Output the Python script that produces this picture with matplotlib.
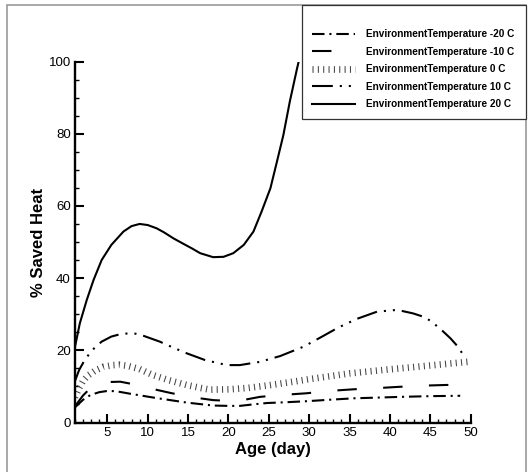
import numpy as np
import matplotlib
matplotlib.use('Agg')
import matplotlib.pyplot as plt
from matplotlib.patches import Rectangle
from matplotlib.ticker import MultipleLocator

plt.rcParams['font.family'] = ['Liberation Sans', 'DejaVu Sans']
plt.rcParams['lines.scale_dashes'] = False

# values (age in days, % saved heat)
x_m20 = [1, 2, 2.9, 4, 4.9, 6, 7, 8, 9.9, 11, 12.8, 14.9, 16.5, 18.1, 20, 21.4, 23, 24.8, 27, 29.7,
         32.5, 35.5, 38.5, 41.3, 45, 48.7]
y_m20 = [4.2, 6.3, 7.6, 8.4, 8.7, 8.7, 8.3, 7.9, 7.2, 6.8, 6.2, 5.5, 5.1, 4.7, 4.6, 4.6, 5.0, 5.4, 5.6, 5.9,
         6.3, 6.7, 6.9, 7.1, 7.3, 7.4]

x_m10 = [1, 2, 3.3, 4, 5, 6.6, 8, 9.3, 11, 12.8, 15.2, 16.5, 18.1, 20, 22, 23.9, 26.4, 29.7, 32.2,
         35.5, 38.2, 41.3, 44, 47, 49]
y_m10 = [4.5, 7.5, 10.4, 10.9, 11.2, 11.3, 10.7, 9.9, 9.1, 8.2, 7.1, 6.7, 6.2, 6.0, 6.3, 7.1, 7.6, 8.1, 8.7,
         9.2, 9.5, 9.9, 10.2, 10.4, 10.4]

x_0 = [1, 1.5, 2, 2.6, 3.5, 4.5, 5.7, 6.5, 7.5, 9, 10.7, 12.5, 14.8, 16.5, 17.7, 20.2, 22.5, 25, 28,
       30, 35, 39.4, 45, 49.6]
y_0 = [7, 9.5, 11.5, 13, 14.4, 15.4, 15.9, 16.0, 15.7, 14.8, 13.1, 11.8, 10.4, 9.6, 9.1, 9.2, 9.6, 10.3,
       11.3, 12.0, 13.6, 14.6, 15.8, 16.8]

x_10 = [1, 1.5, 2.2, 3.1, 4.3, 5.5, 6.5, 7.6, 8.5, 9.5, 11.5, 13, 14.8, 17.1, 19.8, 21.4, 23.9, 26.4,
        29.3, 31.6, 33.6, 35.9, 38.4, 40.9, 42.9, 44.4, 45.4, 46.5, 47.5, 48.3, 49.1]
y_10 = [11.5, 14.5, 17.3, 20, 22.4, 23.8, 24.4, 24.7, 24.6, 24.0, 22.4, 20.9, 19.2, 17.3, 15.9, 15.9,
        16.8, 18.4, 21, 23.8, 26.3, 28.7, 30.7, 31.2, 30.2, 29.1, 27.5, 25.4, 23.3, 21.3, 18.7]

x_20 = [1, 1.6, 2.45, 3.3, 4.3, 5.5, 7, 8, 9, 10, 11.1, 12, 13.2, 14.5, 15.5, 16.5, 18.1, 19.4, 20.6,
        21.9, 23.1, 24.1, 25.2, 26, 26.8, 27.6, 28.5, 28.7]
y_20 = [21, 27.5, 33.9, 39.5, 45, 49.2, 52.9, 54.4, 55, 54.7, 53.8, 52.7, 51, 49.4, 48.2, 46.9, 45.8, 45.9,
        46.9, 49.2, 52.9, 58.4, 64.9, 72.2, 79.6, 88.9, 98.1, 100]

labels = ['EnvironmentTemperature -20 C', 'EnvironmentTemperature -10 C',
          'EnvironmentTemperature 0 C', 'EnvironmentTemperature 10 C',
          'EnvironmentTemperature 20 C']

fig = plt.figure(figsize=(5.3, 4.72), dpi=100)
ax = fig.add_axes([75/530, 1-422.5/472, 395.7/530, 361/472])

ax.plot(x_m20, y_m20, color='black', lw=1.5, dashes=(9, 3.5, 1.5, 3.5), label=labels[0])
ax.plot(x_m10, y_m10, color='black', lw=1.5, dashes=(14, 19), label=labels[1])
ax.plot(x_0, y_0, color='#444444', lw=4.8, dashes=(0.75, 3.1), dash_capstyle='butt',
        label=labels[2])
ax.plot(x_10, y_10, color='black', lw=1.5, dashes=(15, 5, 1.5, 5, 1.5, 5), label=labels[3])
ax.plot(x_20, y_20, color='black', lw=1.5, label=labels[4])

ax.set_xlim(1, 50)
ax.set_ylim(0, 100)
ax.spines['top'].set_visible(False)
ax.spines['right'].set_visible(False)
ax.spines['left'].set_linewidth(1.7)
ax.spines['bottom'].set_linewidth(1.7)
ax.set_xticks([5, 10, 15, 20, 25, 30, 35, 40, 45, 50])
ax.set_yticks([0, 20, 40, 60, 80, 100])
ax.xaxis.set_minor_locator(MultipleLocator(1))
ax.yaxis.set_minor_locator(MultipleLocator(5))
ax.tick_params(which='major', direction='in', length=6.5, width=1.5, labelsize=9.5, pad=3)
ax.tick_params(which='minor', direction='in', length=3, width=1.0)

ax.set_xlabel('Age (day)', fontsize=12, fontweight='bold')
ax.set_ylabel('% Saved Heat', fontsize=12, fontweight='bold')
ax.xaxis.set_label_coords(0.5, -0.053)
ax.yaxis.set_label_coords(-0.073, 0.5)

leg_h = 113/472
leg = fig.legend(loc='upper left', bbox_to_anchor=(302/530, 1-5/472-leg_h, 224/530, leg_h),
                 mode='expand', borderaxespad=0,
                 prop={'weight': 'bold', 'size': 7.2}, title=' ', title_fontsize=5.5,
                 handlelength=4.3, handletextpad=1.15, labelspacing=0.74, borderpad=1.0,
                 fancybox=False, framealpha=1)
leg.get_frame().set_edgecolor('#333333')
leg.get_frame().set_linewidth(0.9)

fig.patches.append(Rectangle((7/530, -0.02), 519/530, 1.02-5/472, transform=fig.transFigure,
                             fill=False, edgecolor='#999999', lw=1.2))

fig.savefig('out.png', dpi=100)
